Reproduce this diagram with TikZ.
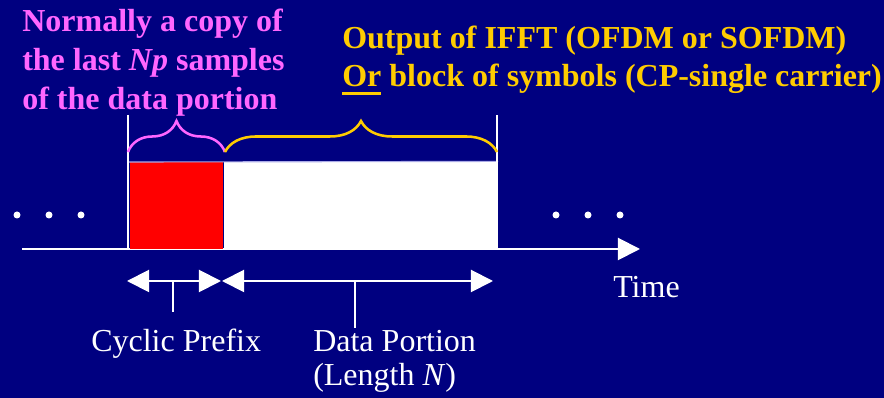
\documentclass[tikz,border=0pt]{standalone}
\usepackage{fontspec}
\setmainfont{Liberation Serif}
\usepackage{xcolor}
\usepackage{tikz}
\usetikzlibrary{positioning, arrows.meta, decorations.pathreplacing}
\definecolor{slide}{RGB}{0, 0, 128}
\definecolor{note}{RGB}{255, 102, 255}
\definecolor{gold}{RGB}{255, 204, 0}
\definecolor{rim}{RGB}{170, 170, 230}
\newcommand{\slidefont}{\fontsize{22.76pt}{27.4pt}\selectfont}
\newcommand{\thickul}[1]{\setbox0\hbox{#1}\rlap{\rule[-0.19cm]{\wd0}{0.065cm}}\box0\relax}

\begin{document}
\begin{tikzpicture}[x=0.025cm, y=-0.025cm, font=\slidefont,
  txt/.style={inner sep=0pt, anchor=base west, align=left},
  edge/.style={white, line width=1.2pt},
  tip/.style={-{Triangle[length=0.55cm, width=0.55cm]}},
  span/.style={white, line width=1.4pt, {Triangle[length=0.55cm, width=0.55cm]}-{Triangle[length=0.55cm, width=0.55cm]}},
  curly/.style={line width=1.8pt, decorate, decoration={brace, amplitude=0.775cm}}]
  % Background
  \fill[slide] (0,0) rectangle (884,398);
  \useasboundingbox (0,0) rectangle (884,398);

  % Time axis
  \coordinate (axL) at (22,249);
  \coordinate (axR) at (640,249);
  \draw[white, line width=1.4pt, tip] (axL) -- (axR);
  \node[txt, white] (time) at (613,298) {Time};

  % Dots before and after the block
  \foreach \x in {17,49,81,556,588,620} \fill[white] (\x,215) circle (3.5);

  % Symbol block: prefix + data
  \node (cp) [fill=red, inner sep=0pt, minimum width=2.325cm, minimum height=2.175cm, anchor=south west] at (130,249) {};
  \node (data) [fill=white, inner sep=0pt, minimum width=6.85cm, minimum height=2.175cm, anchor=south west] at (cp.south east) {};
  \draw[rim, line width=0.8pt] (128,162) -- (data.north east);

  % Block edges
  \coordinate (edgeL) at (128,115);
  \coordinate (edgeR) at (497,115);
  \draw[edge] (edgeL) -- (edgeL |- axL);
  \draw[edge] (edgeR) -- (edgeR |- axL);

  % Braces
  \coordinate (bA) at (128,152);
  \coordinate (bB) at (225,152);
  \coordinate (bC) at (497,152);
  \draw[curly, note] (bA) -- (bB);
  \draw[curly, gold] (bB) -- (bC);

  % Notes above (base = last line)
  \node[txt, note] (copy) at (22,110) {\bfseries Normally a copy of\\[0.4pt] \bfseries the last \textit{Np} samples\\[0.4pt] \bfseries of the data portion};
  \node[txt, gold] (ifft) at (342,87) {\bfseries Output of IFFT (OFDM or SOFDM)\\ \bfseries \thickul{Or} block of symbols (CP-single carrier)};

  % Length arrows
  \coordinate (cpA) at (127,281);
  \coordinate (cpB) at (221,281);
  \coordinate (dA) at (222,281);
  \coordinate (dB) at (493,281);
  \draw[span] (cpA) -- (cpB);
  \draw[span] (dA) -- (dB);
  \coordinate (cpT) at (173,312);
  \coordinate (dT) at (355,328);
  \draw[edge] (cpT |- cpA) -- (cpT);
  \draw[edge] (dT |- dA) -- (dT);

  % Labels
  \node[txt, white] (cplab) at (91,352) {Cyclic Prefix};
  \node[txt, white] (dlab) at (313,386) {Data Portion\\[-3pt] (Length \textit{N})};
\end{tikzpicture}
\end{document}
